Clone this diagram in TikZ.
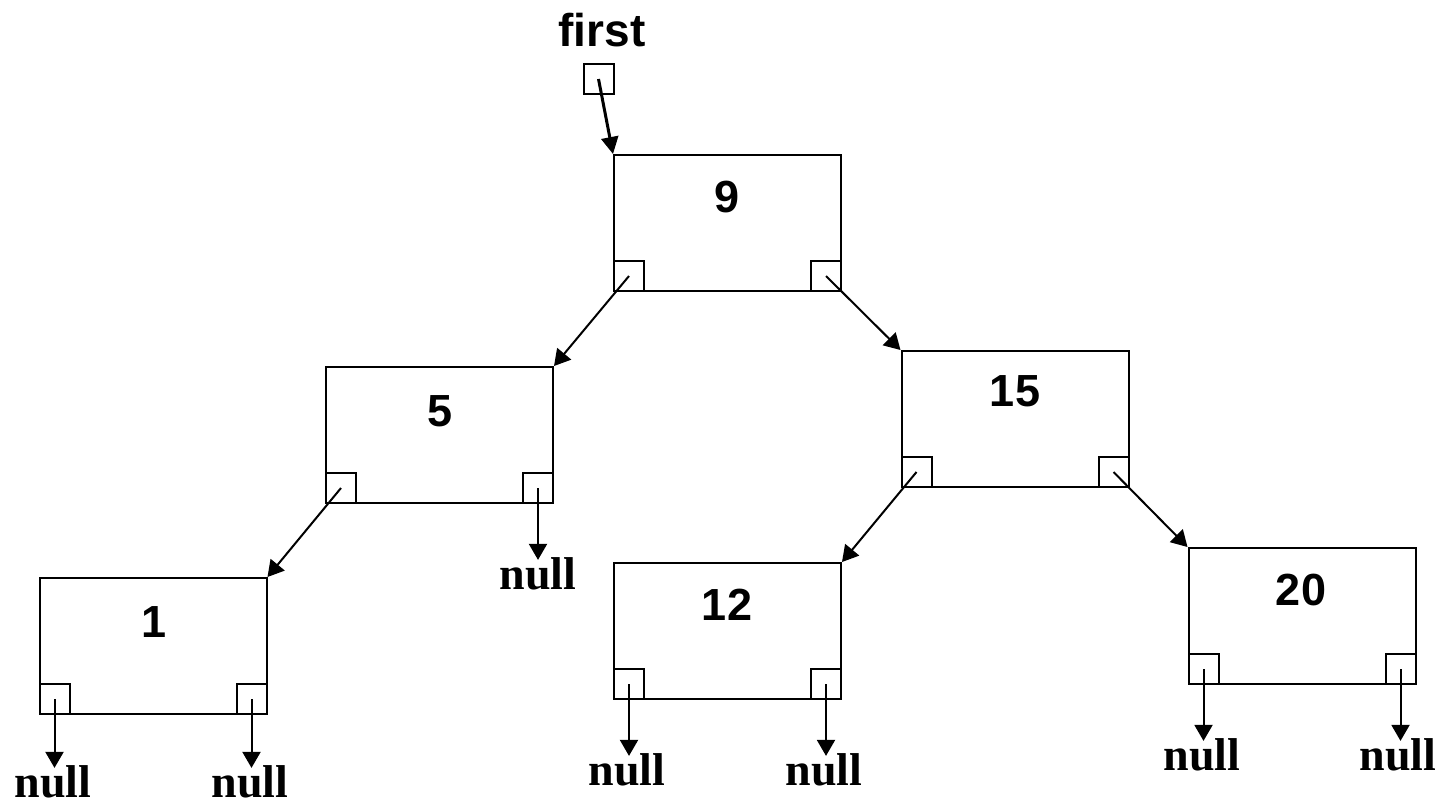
\documentclass[tikz,border=0pt]{standalone}
\usepackage{fontspec}
\setmainfont{Liberation Serif}
\newfontfamily\sansf{Liberation Sans}
\usetikzlibrary{arrows.meta}
\begin{document}
\begin{tikzpicture}[x=1pt,y=-1pt,
  box/.style={draw,line width=2pt,minimum width=227pt,minimum height=136pt,inner sep=0pt},
  sq/.style={draw,line width=2pt,minimum size=30pt,inner sep=0pt},
  num/.style={font=\sansf\bfseries\fontsize{45}{49}\selectfont,inner sep=0pt},
  nul/.style={font=\bfseries\fontsize{46}{50}\selectfont,inner sep=0pt,anchor=base},
  ptr/.style={line width=2pt,-{Triangle[length=16pt,width=18pt]}},
  nptr/.style={ptr,shorten >=-3pt},
  fptr/.style={line width=3pt,-{Triangle[length=17pt,width=17pt]}}
]
\useasboundingbox (0,0) rectangle (1439,804);

% first pointer
\node[font=\sansf\bfseries\fontsize{46}{50}\selectfont,inner sep=0pt,anchor=base] (first) at (602,46) {first};
\node[sq] (fsq) at (598.5,79) {};

% tree nodes
\node[box] (n9) at (727.5,223) {};
\node[box] (n5) at (439.5,435) {};
\node[box] (n15) at (1015,419) {};
\node[box] (n1) at (153,646) {};
\node[box] (n12) at (727.5,631) {};
\node[box] (n20) at (1302,616) {};

\node[num] (t9) at (727,197) {9};
\node[num] (t5) at (440,411) {5};
\node[num] (t15) at (1015,391) {15};
\node[num] (t1) at (154,622) {1};
\node[num] (t12) at (727,605) {12};
\node[num] (t20) at (1301,590) {20};

\foreach \n in {n9,n5,n15,n1,n12,n20}{
  \node[sq,anchor=south west] (\n l) at (\n.south west) {};
  \node[sq,anchor=south east] (\n r) at (\n.south east) {};
}

% null labels
\node[nul] (z1l) at (53,797) {null};
\node[nul] (z1r) at (250,797) {null};
\node[nul] (z5r) at (538,589) {null};
\node[nul] (z12l) at (627,785) {null};
\node[nul] (z12r) at (824,785) {null};
\node[nul] (z20l) at (1202,770) {null};
\node[nul] (z20r) at (1398,770) {null};

% connectors
\draw[fptr] (fsq.center) -- (n9.north west);
\draw[ptr] (n9l.center) -- (n5.north east);
\draw[ptr] (n9r.center) -- (n15.north west);
\draw[ptr] (n5l.center) -- (n1.north east);
\draw[ptr] (n15l.center) -- (n12.north east);
\draw[ptr] (n15r.center) -- (n20.north west);

\draw[nptr] (n1l.center) -- (n1l.center |- z1l.north);
\draw[nptr] (n1r.center) -- (n1r.center |- z1r.north);
\draw[nptr] (n5r.center) -- (n5r.center |- z5r.north);
\draw[nptr] (n12l.center) -- (n12l.center |- z12l.north);
\draw[nptr] (n12r.center) -- (n12r.center |- z12r.north);
\draw[nptr] (n20l.center) -- (n20l.center |- z20l.north);
\draw[nptr] (n20r.center) -- (n20r.center |- z20r.north);
\end{tikzpicture}
\end{document}
